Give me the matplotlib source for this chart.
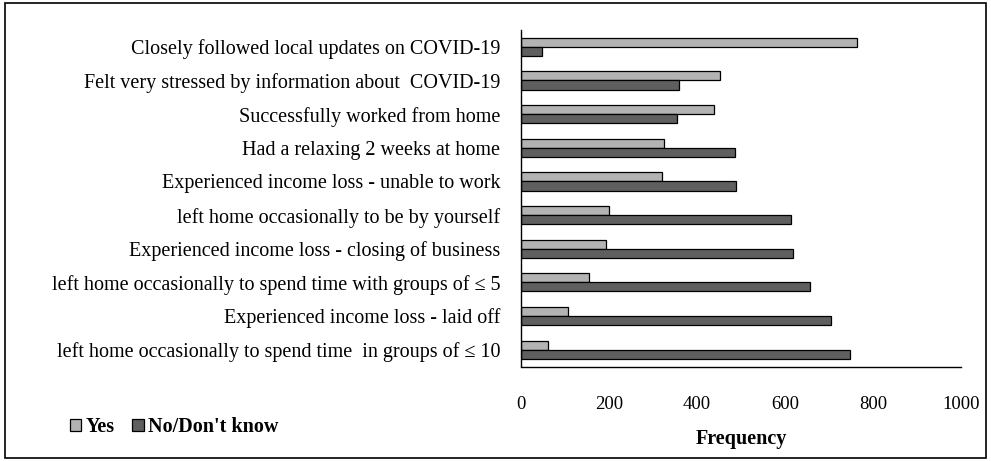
import matplotlib
matplotlib.use("Agg")
import matplotlib.pyplot as plt
import numpy as np
from matplotlib.patches import Rectangle

categories = [
    "Closely followed local updates on COVID-19",
    "Felt very stressed by information about  COVID-19",
    "Successfully worked from home",
    "Had a relaxing 2 weeks at home",
    "Experienced income loss - unable to work",
    "left home occasionally to be by yourself",
    "Experienced income loss - closing of business",
    "left home occasionally to spend time with groups of \u2264 5",
    "Experienced income loss - laid off",
    "left home occasionally to spend time  in groups of \u2264 10",
]
yes_vals = [763, 453, 439, 326, 321, 200, 194, 154, 106, 61]
no_vals = [47, 359, 354, 486, 489, 613, 618, 656, 705, 748]
xticks = [0, 200, 400, 600, 800, 1000]
series_names = ["Yes", "No/Don't know"]

plt.rcParams['font.family'] = ['Liberation Serif', 'DejaVu Serif']

fig = plt.figure(figsize=(9.91, 4.61), dpi=100)
ax = fig.add_axes([521/991, 1 - 366.5/461, 440/991, 336.5/461])

n = len(categories)
y = np.arange(n)
h = 0.27
ax.barh(y - h/2, yes_vals, height=h, color='#b3b3b3', edgecolor='black', linewidth=0.9, label=series_names[0])
ax.barh(y + h/2, no_vals, height=h, color='#5f5f5f', edgecolor='black', linewidth=0.9, label=series_names[1])

ax.set_ylim(n - 0.5, -0.5)
ax.set_xlim(0, 1000)
ax.set_yticks(y)
ax.set_yticklabels(categories, fontsize=14.5)
ax.tick_params(axis='y', length=0, pad=15)
ax.set_xticks(xticks)
ax.set_xticklabels([str(t) for t in xticks], fontsize=13.5)
ax.tick_params(axis='x', length=0, pad=21)
for s in ['top', 'right']:
    ax.spines[s].set_visible(False)
ax.spines['left'].set_linewidth(1.0)
ax.spines['bottom'].set_linewidth(1.0)

ax.set_xlabel("Frequency", fontsize=14.5, fontweight='bold', labelpad=12)

handles, labels = ax.get_legend_handles_labels()
leg = fig.legend(handles, labels, loc='center left', bbox_to_anchor=(52/991, 1 - 427/461),
                 ncol=2, frameon=False, prop={'size': 14.5, 'weight': 'bold'},
                 handlelength=0.55, handleheight=0.55, handletextpad=0.2, columnspacing=0.9)

fig.patches.append(Rectangle((5/991, 3/461), 981/991, 455/461, transform=fig.transFigure,
                             fill=False, edgecolor='black', linewidth=1.2))

fig.savefig("out.png", dpi=100)
